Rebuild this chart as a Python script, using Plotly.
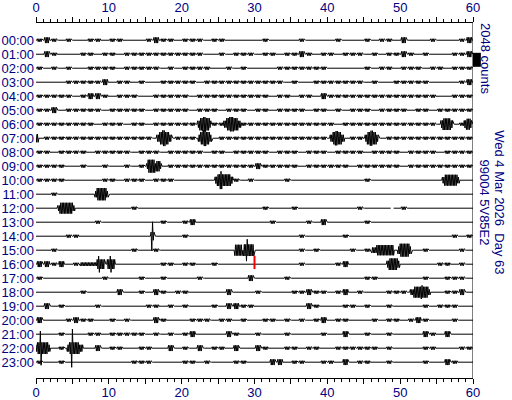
import numpy as np
import plotly.graph_objects as go

HOURS = [f"{h:02d}:00" for h in range(24)]
X_TICKS = [0, 5, 10, 15, 20, 25, 30, 35, 40, 45, 50, 55, 60]
X_LABELS = ["0", "", "10", "", "20", "", "30", "", "40", "", "50", "", "60"]

COUNTS_PER_ROW = 2048      # scale bar: one row spacing
NOISE_STEP = 210           # counts per background-noise level

# background noise level per minute (0 = quiet), one string per hour row
NOISE = [
    "1210100110 1100012110 1110110000 0100001000 0100010110 2000100012",
    "0210001101 1011111111 1110010111 0110112101 1011101011 2101000112",
    "1010100111 1011111010 1111001010 0001111111 0000010110 1110110111",
    "0000111112 0110100111 1101111111 1111010011 1111101001 1111000012",
    "1111101221 0111001111 1011111111 1101101102 1111111111 1111100111",
    "1120111110 1111101111 1011101110 1101111011 0101110111 1011011111",
    "1111111101 1101101111 1101111011 1111111111 1011111111 1111101010",
    "0111111111 1111110001 1100011111 1111111111 0001100011 1111111111",
    "1101111011 1110111011 1110110111 1101110111 0111101111 0111101111",
    "1111001001 0010100011 1111111111 2111110111 1110111111 0111111111",
    "1111000001 1011101110 0000000101 0000100000 0000010000 0000000000",
    "0010000000 0000000000 0000000000 0000000000 0000000000 0000000000",
    "0000000000 0001000000 0000000000 0100010000 0000100000 1000000000",
    "0000000010 0000000100 1200000000 0010000102 0000010000 0000000000",
    "0000110000 0000000000 1000000000 0000001000 0010000000 0000000101",
    "0010000000 0001001000 0000000000 0000001010 0001010000 0001000010",
    "2212010000 0000000110 1100100000 0000001000 0120000000 0000011010",
    "1000000001 0000100100 0010000002 0000100000 0000011000 0001001110",
    "0000001000 0200102101 1000002000 1000011211 0120100011 1000001120",
    "0201000010 0000011010 1000102211 0000000210 0011010010 0001011100",
    "2000121100 1010002100 0111011010 0110101012 0110001011 0121000100",
    "0001000110 1111101010 1200002100 1000100001 0020010010 0002102000",
    "0001000020 1100110020 1020110200 2100110110 0111111010 0001100011",
    "1001000000 0001110000 1101000110 0022011001 1020110010 0001002100",
]

# events: (row, start minute, end minute, half-amplitude in counts)
BURSTS = [
    (6, 22.2, 24.0, 500), (6, 22.5, 23.8, 900), (6, 22.9, 23.3, 1050),
    (6, 25.8, 28.1, 500), (6, 26.2, 27.7, 900), (6, 26.6, 27.1, 1050),
    (6, 55.6, 57.2, 550), (6, 55.9, 56.9, 850),
    (6, 58.8, 59.8, 550), (6, 59.1, 59.6, 800),
    (7, 0.0, 0.3, 600),
    (7, 16.6, 18.6, 500), (7, 17.0, 18.2, 900), (7, 17.4, 17.7, 1150),
    (7, 22.3, 24.1, 500), (7, 22.6, 23.8, 900), (7, 23.0, 23.3, 1150),
    (7, 40.4, 42.3, 500), (7, 40.8, 41.9, 900), (7, 41.1, 41.4, 1050),
    (7, 45.2, 47.0, 500), (7, 45.5, 46.7, 900), (7, 45.9, 46.2, 1100),
    (9, 15.2, 17.2, 400), (9, 15.4, 16.3, 950), (9, 16.5, 17.0, 750),
    (10, 24.6, 27.0, 500), (10, 24.9, 26.7, 850), (10, 25.3, 25.5, 1300),
    (10, 55.8, 58.1, 450), (10, 56.1, 57.8, 800),
    (11, 8.1, 9.9, 450), (11, 8.4, 9.6, 900),
    (12, 3.0, 5.3, 400), (12, 3.3, 5.0, 800),
    (14, 15.8, 16.2, 600), (14, 15.9, 16.0, 2100),
    (15, 27.3, 28.3, 800), (15, 28.5, 29.9, 850), (15, 28.9, 29.0, 1600),
    (15, 46.1, 46.8, 400), (15, 46.8, 49.1, 750),
    (15, 49.7, 51.5, 550), (15, 50.0, 51.2, 950),
    (16, 6.1, 8.4, 250), (16, 8.4, 9.4, 700), (16, 8.6, 8.7, 1200),
    (16, 9.8, 10.8, 700), (16, 10.2, 10.3, 1200),
    (16, 48.2, 49.9, 500), (16, 48.5, 49.6, 850),
    (18, 51.4, 54.1, 400), (18, 51.9, 53.8, 800), (18, 52.9, 53.0, 1000),
    (22, 0.0, 1.9, 500), (22, 0.2, 1.6, 850), (22, 0.6, 0.7, 2500),
    (22, 4.3, 6.4, 500), (22, 4.6, 5.9, 850), (22, 4.9, 5.0, 2800),
]

# data gaps: (row, start minute, end minute)
GAPS = [(12, 48.7, 49.1)]

# current-time marker
MARK_ROW = 16
MARK_MINUTE = 30

STATION = "99004 5V85E2"
DATE_TEXT = "Wed 4 Mar 2026&nbsp;&nbsp;Day 63"
SCALE_TEXT = f"{COUNTS_PER_ROW} counts"

# ─── Style ─────────────────────────────────────────────────────────────────────

NAVY = "#000080"
FONT = "Liberation Sans, Arial, sans-serif"
SAMPLES_PER_MIN = 10


def row_trace(row):
    n = 60 * SAMPLES_PER_MIN + 1
    xs = np.arange(n) / SAMPLES_PER_MIN
    amp = np.zeros(n)
    eps = 1e-9

    levels = NOISE[row].replace(" ", "")
    for m, ch in enumerate(levels):
        if ch != "0":
            mask = (xs >= m + 0.2 - eps) & (xs <= m + 0.8 + eps)
            amp[mask] = np.maximum(amp[mask], int(ch) * NOISE_STEP)

    for r, a, b, c in BURSTS:
        if r == row:
            mask = (xs >= a - eps) & (xs <= b + eps)
            amp[mask] = np.maximum(amp[mask], c)

    sign = np.where(np.arange(n) % 2 == 0, 1.0, -1.0)
    ys = (row - sign * amp / COUNTS_PER_ROW).astype(object)

    for r, a, b in GAPS:
        if r == row:
            ys[(xs > a) & (xs < b)] = None

    return go.Scatter(
        x=xs, y=ys, mode="lines",
        line=dict(color="black", width=1),
        hoverinfo="skip", connectgaps=False,
    )


fig = go.Figure()
for h in range(len(HOURS)):
    fig.add_trace(row_trace(h))

# red marker sits on the bottom axis so that axis gets drawn
fig.add_trace(go.Scatter(
    x=[MARK_MINUTE, MARK_MINUTE], y=[MARK_ROW - 0.6, MARK_ROW + 0.35],
    mode="lines", line=dict(color="red", width=2),
    xaxis="x2", hoverinfo="skip",
))

xaxis_base = dict(
    range=[0, 60], tickmode="array", tickvals=X_TICKS, ticktext=X_LABELS,
    ticks="outside", ticklen=5, tickcolor="black", tickwidth=1,
    showline=True, linecolor="black", linewidth=1,
    showgrid=False, zeroline=False, automargin=False,
    tickfont=dict(size=13, color=NAVY),
    minor=dict(tickmode="linear", tick0=0, dtick=1, ticks="outside",
               ticklen=3, tickcolor="black", showgrid=False),
)

fig.update_layout(
    width=512, height=400,
    margin=dict(l=36, r=39, t=23, b=22, autoexpand=False),
    paper_bgcolor="white", plot_bgcolor="white",
    font=dict(family=FONT, size=13, color=NAVY),
    showlegend=False,
    xaxis=dict(**xaxis_base, side="top"),
    xaxis2=dict(**xaxis_base, side="bottom", overlaying="x", anchor="y",
                ticklabelstandoff=-3),
    yaxis=dict(
        range=[24.13, -1.23], tickmode="array",
        tickvals=list(range(len(HOURS))), ticktext=HOURS,
        ticks="", showline=False, showgrid=False, zeroline=False,
        automargin=False, ticklabelstandoff=1,
        tickfont=dict(size=13, color=NAVY),
    ),
    shapes=[
        # right frame line
        dict(type="line", xref="x", yref="paper", x0=60, x1=60, y0=0, y1=1,
             line=dict(color="black", width=1)),
        # scale bar: 2048 counts
        dict(type="rect", xref="paper", yref="y", x0=1.0, x1=1.018,
             y0=0.9, y1=0.9 + 1.0, fillcolor="black",
             line=dict(width=0)),
    ],
    annotations=[
        dict(text=SCALE_TEXT, xref="paper", yref="paper", x=1.027, y=0.899,
             textangle=90, showarrow=False, xanchor="center", yanchor="middle",
             font=dict(size=13, color=NAVY)),
        dict(text=DATE_TEXT, xref="paper", yref="paper", x=1.062, y=0.495,
             textangle=90, showarrow=False, xanchor="center", yanchor="middle",
             font=dict(size=13, color=NAVY)),
        dict(text=STATION, xref="paper", yref="paper", x=1.027, y=0.495,
             textangle=90, showarrow=False, xanchor="center", yanchor="middle",
             font=dict(size=13, color=NAVY)),
    ],
)

# the page's default 8px body margin would push the fixed-size figure off-frame
fig.write_html(
    "out.html",
    config={"displayModeBar": False},
    post_script="document.body.style.margin='0px';",
)
